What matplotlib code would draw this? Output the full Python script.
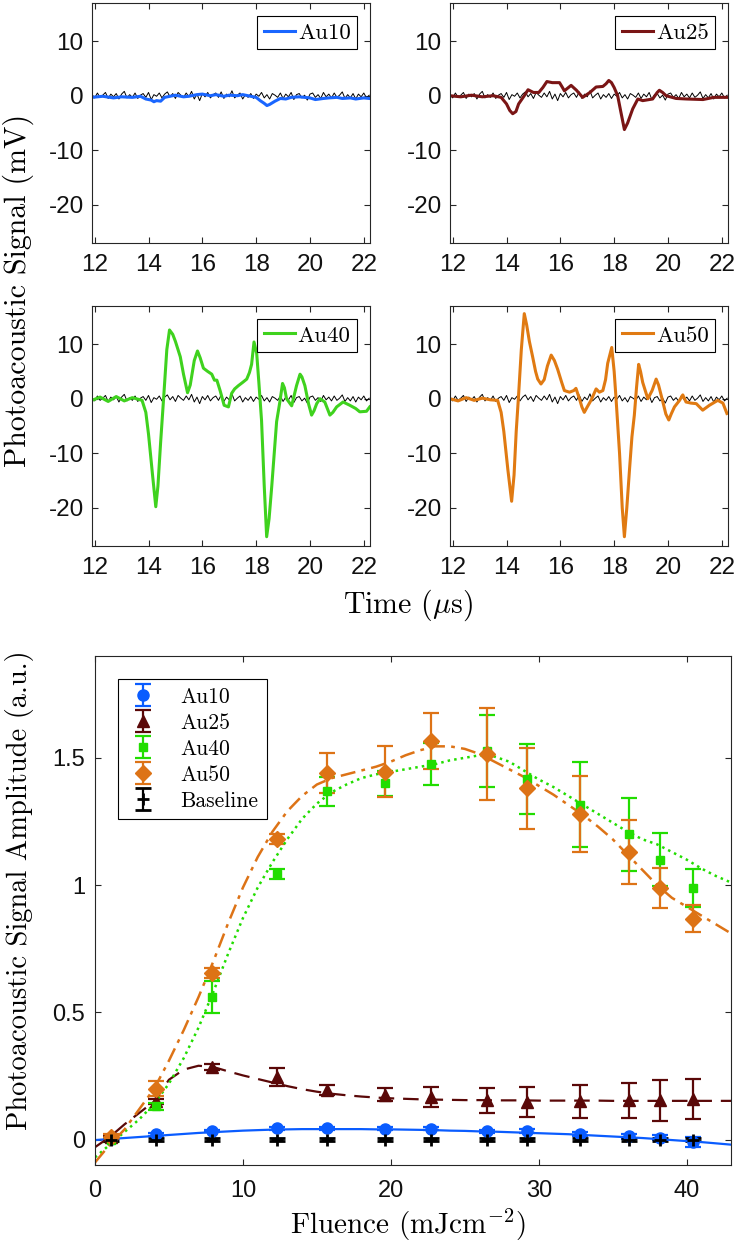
import numpy as np
import matplotlib
matplotlib.use("Agg")
import matplotlib.pyplot as plt

plt.rcParams['font.family'] = ['Liberation Sans', 'DejaVu Sans']
plt.rcParams['axes.unicode_minus'] = False
plt.rcParams['mathtext.fontset'] = 'cm'

# ---------------- data: time-domain signals (mV vs microseconds) ----------------
base_t = np.round(np.arange(11.9, 22.25, 0.1), 2)
baseline_noise = [
    0.2, -0.4, 0.5, -0.3, 0.1, 0.6, -0.5, 0.3, -0.2, 0.4,
    -0.6, 0.3, 0.8, -0.4, 0.2, -0.3, 0.5, -0.5, 0.1, 0.4,
    -0.3, 0.6, -0.7, 0.2, -0.1, 0.5, -0.4, 0.3, 0.7, -0.2,
    0.4, -0.5, 0.6, 0.1, -0.3, 0.5, -0.2, 0.8, -0.6, 0.3,
    -0.9, 0.4, -0.2, 0.6, -0.4, 0.2, 0.5, -0.3, 0.7, -0.5,
    0.3, -0.2, 0.9, -0.4, 0.1, 0.5, -0.6, 0.2, -0.3, 0.4,
    -0.5, 0.3, -0.1, 0.6, -0.4, 0.2, -0.6, 0.4, 0.1, -0.3,
    0.5, -0.5, 0.3, -0.2, 0.6, -0.7, 0.2, 0.4, -0.4, 0.1,
    -0.8, 0.3, 0.5, -0.3, 0.2, -0.5, 0.6, -0.2, 0.3, -0.4,
    0.5, -0.3, 0.1, 0.7, -0.5, 0.2, -0.4, 0.4, -0.6, 0.3,
    -0.2, 0.5, -0.4, 0.1]

au10_t = [11.9, 12.3, 12.7, 13.0, 13.4, 13.7, 13.9, 14.1, 14.2, 14.3, 14.45, 14.6, 14.8, 15.0,
          15.3, 15.5, 15.8, 16.0, 16.3, 16.5, 16.8, 17.0, 17.3, 17.5, 17.8, 18.0, 18.15, 18.3,
          18.4, 18.5, 18.7, 18.9, 19.1, 19.3, 19.6, 19.8, 20.0, 20.2, 20.5, 20.7, 21.0, 21.2,
          21.5, 21.7, 22.0, 22.2]
au10_v = [-0.3, -0.1, -0.4, -0.2, -0.3, -0.1, -0.6, -0.8, -1.1, -0.9, -1.0, -0.3, -0.1, 0.1,
          -0.2, -0.1, 0.2, 0.3, 0.0, 0.2, -0.1, 0.1, 0.0, 0.2, -0.1, -0.3, -0.9, -1.4,
          -1.8, -1.6, -1.0, -0.5, -0.6, -0.3, -0.2, -0.3, -0.4, -0.7, -0.5, -0.4, -0.3, -0.5,
          -0.4, -0.6, -0.4, -0.5]

au25_t = [11.9, 12.3, 12.7, 13.1, 13.5, 13.8, 14.0, 14.12, 14.23, 14.35, 14.45, 14.66, 14.8,
          15.0, 15.2, 15.35, 15.5, 15.7, 15.97, 16.08, 16.15, 16.3, 16.4, 16.6, 16.83, 17.1,
          17.33, 17.58, 17.7, 17.8, 17.9, 18.0, 18.13, 18.25, 18.38, 18.5, 18.69, 18.88,
          19.06, 19.43, 19.6, 19.68, 19.8, 19.93, 20.3, 20.7, 21.3, 21.7, 22.2]
au25_v = [0.0, -0.2, 0.1, -0.2, 0.0, -0.3, -1.5, -2.7, -3.3, -2.9, -1.5, 0.0, 1.1,
          0.6, 0.6, 1.5, 2.6, 2.4, 2.4, 1.5, 0.9, 1.5, 1.9, 1.0, -0.3, 0.6,
          1.6, 1.7, 2.2, 2.8, 2.4, 1.5, 0.0, -3.0, -6.2, -5.0, -2.4, -0.6,
          -0.9, -0.6, 0.6, 1.0, 0.6, 0.0, -0.5, -0.6, -0.7, -0.3, -0.3]

au40_t = [11.9, 12.2, 12.5, 12.8, 13.1, 13.4, 13.76, 13.9, 14.0, 14.15, 14.27, 14.35, 14.45,
          14.56, 14.68, 14.78, 14.9, 15.0, 15.18, 15.3, 15.45, 15.55, 15.7, 15.82, 15.92,
          16.04, 16.2, 16.35, 16.45, 16.54, 16.66, 16.81, 16.97, 17.09, 17.2, 17.34, 17.5,
          17.65, 17.75, 17.83, 17.92, 18.02, 18.1, 18.2, 18.3, 18.39, 18.48, 18.58, 18.76,
          18.88, 18.98, 19.05, 19.13, 19.32, 19.5, 19.63, 19.7, 19.81, 19.95, 20.06, 20.15,
          20.25, 20.37, 20.55, 20.74, 20.85, 20.99, 21.23, 21.48, 21.7, 21.85, 22.1, 22.22]
au40_v = [-0.3, 0.3, -0.5, 0.4, -0.4, 0.2, -0.3, -2.5, -6.5, -14.0, -19.8, -16.0, -8.0,
          0.0, 9.0, 12.6, 11.8, 10.5, 7.7, 4.5, 1.1, 2.5, 7.0, 8.75, 7.5,
          5.6, 5.0, 4.5, 3.4, 3.4, 1.5, -1.2, -1.5, 1.0, 1.8, 2.4, 3.0,
          3.6, 4.8, 6.3, 10.4, 8.3, 3.0, -4.0, -16.0, -25.3, -22.0, -16.0, -4.2,
          -0.6, 2.8, 2.0, 0.0, -1.3, 2.4, 4.5, 4.0, 2.4, -1.0, -3.0, -2.2,
          -0.9, 0.0, -0.6, -3.0, -2.5, -1.5, -0.6, -1.2, -1.8, -2.4, -2.3, -1.5]

au50_t = [11.9, 12.2, 12.5, 12.8, 13.1, 13.4, 13.67, 13.8, 13.9, 14.05, 14.19, 14.28, 14.36,
          14.44, 14.55, 14.66, 14.75, 14.85, 14.97, 15.08, 15.16, 15.28, 15.4, 15.52, 15.66,
          15.78, 15.9, 16.05, 16.15, 16.34, 16.5, 16.58, 16.71, 16.8, 16.89, 17.0, 17.14,
          17.33, 17.45, 17.58, 17.68, 17.76, 17.91, 18.0, 18.07, 18.2, 18.3, 18.38, 18.47,
          18.57, 18.66, 18.75, 18.83, 18.91, 18.98, 19.06, 19.25, 19.41, 19.56, 19.65, 19.81,
          19.92, 20.03, 20.12, 20.24, 20.43, 20.55, 20.67, 20.85, 21.05, 21.29, 21.54, 21.85,
          22.04, 22.19]
au50_v = [0.0, -0.4, 0.2, -0.3, 0.1, -0.2, -0.3, -2.5, -6.0, -13.0, -18.8, -14.0, -6.0,
          0.0, 9.0, 15.6, 13.5, 10.5, 7.7, 5.0, 3.6, 2.7, 3.5, 6.0, 8.0,
          7.0, 5.4, 3.0, 1.5, 1.2, 1.5, 1.9, 0.0, -1.5, -2.5, -1.5, -0.3,
          1.8, 1.2, 1.5, 3.5, 6.5, 9.4, 5.0, 0.0, -10.0, -20.0, -25.3, -20.0,
          -13.0, -7.0, -3.0, 2.0, 6.3, 5.0, 3.0, 0.0, 1.5, 3.6, 2.5, -0.6,
          -2.8, -3.9, -2.8, -1.5, -0.3, 0.7, -0.6, -0.8, -0.9, -2.1, -1.2, -0.3,
          -0.8, -2.7]

time_xticks = [12, 14, 16, 18, 20, 22]
signal_yticks = [-20, -10, 0, 10]

# ---------------- data: amplitude vs fluence ----------------
fluence = [1.1, 4.1, 7.9, 12.3, 15.7, 19.6, 22.75, 26.5, 29.2, 32.8, 36.1, 38.2, 40.4]
amp_au10 = [0.002, 0.02, 0.033, 0.044, 0.044, 0.042, 0.042, 0.033, 0.034, 0.022, 0.013, 0.008, -0.01]
err_au10 = [0.005, 0.005, 0.005, 0.006, 0.006, 0.006, 0.006, 0.006, 0.008, 0.008, 0.01, 0.01, 0.02]
amp_au25 = [0.01, 0.15, 0.285, 0.245, 0.196, 0.177, 0.167, 0.154, 0.148, 0.15, 0.154, 0.154, 0.16]
err_au25 = [0.005, 0.01, 0.012, 0.035, 0.02, 0.025, 0.04, 0.05, 0.06, 0.065, 0.07, 0.08, 0.078]
amp_au40 = [0.0, 0.13, 0.56, 1.043, 1.368, 1.40, 1.476, 1.527, 1.418, 1.316, 1.199, 1.10, 0.99]
err_au40 = [0.008, 0.015, 0.062, 0.02, 0.057, 0.05, 0.083, 0.14, 0.138, 0.167, 0.145, 0.105, 0.075]
amp_au50 = [0.01, 0.2, 0.656, 1.18, 1.44, 1.445, 1.566, 1.515, 1.38, 1.28, 1.13, 0.988, 0.867]
err_au50 = [0.01, 0.03, 0.02, 0.02, 0.08, 0.1, 0.11, 0.18, 0.16, 0.15, 0.125, 0.08, 0.053]
amp_base = [0.0, 0.0, 0.0, 0.0, 0.0, 0.0, 0.0, 0.0, 0.0, 0.0, 0.0, 0.0, 0.0]
err_base = [0.006, 0.006, 0.006, 0.006, 0.006, 0.006, 0.006, 0.006, 0.006, 0.006, 0.006, 0.006, 0.006]

fit_x = [0, 1, 2, 3, 4, 5, 6, 7, 8, 9, 10, 11, 12, 13, 14, 15, 16, 17, 18, 19, 20, 21,
         22, 23, 24, 25, 26, 27, 28, 29, 30, 31, 32, 33, 34, 35, 36, 37, 38, 39, 40, 41, 42, 43]
fit_au10 = [-0.002, 0.002, 0.006, 0.01, 0.014, 0.018, 0.022, 0.026, 0.029, 0.032, 0.035,
            0.037, 0.039, 0.04, 0.041, 0.041, 0.041, 0.041, 0.041, 0.04, 0.04, 0.039,
            0.038, 0.037, 0.035, 0.034, 0.032, 0.031, 0.029, 0.027, 0.025, 0.023, 0.021,
            0.018, 0.015, 0.012, 0.009, 0.006, 0.002, -0.002, -0.006, -0.01, -0.015, -0.02]
fit_au25 = [-0.03, 0.01, 0.06, 0.105, 0.15, 0.235, 0.275, 0.29, 0.285, 0.268, 0.252,
            0.238, 0.224, 0.21, 0.198, 0.188, 0.18, 0.174, 0.169, 0.165, 0.162, 0.16,
            0.158, 0.157, 0.156, 0.155, 0.155, 0.154, 0.154, 0.154, 0.153, 0.153, 0.153,
            0.153, 0.153, 0.152, 0.152, 0.152, 0.152, 0.152, 0.152, 0.152, 0.152, 0.152]
fit_au40 = [-0.07, -0.02, 0.03, 0.08, 0.14, 0.22, 0.32, 0.44, 0.58, 0.73, 0.87,
            0.99, 1.09, 1.18, 1.26, 1.32, 1.365, 1.395, 1.42, 1.435, 1.445, 1.455,
            1.465, 1.475, 1.49, 1.50, 1.51, 1.505, 1.485, 1.45, 1.415, 1.385, 1.35,
            1.315, 1.28, 1.245, 1.21, 1.18, 1.16, 1.13, 1.10, 1.065, 1.035, 1.01]
fit_au50 = [-0.09, -0.02, 0.04, 0.12, 0.20, 0.31, 0.43, 0.56, 0.70, 0.85, 0.99,
            1.11, 1.21, 1.29, 1.35, 1.395, 1.42, 1.435, 1.45, 1.465, 1.485, 1.51,
            1.53, 1.545, 1.545, 1.535, 1.515, 1.485, 1.455, 1.425, 1.39, 1.355, 1.315,
            1.275, 1.23, 1.18, 1.12, 1.06, 1.0, 0.95, 0.915, 0.88, 0.845, 0.81]

fluence_xticks = [0, 10, 20, 30, 40]
amp_yticks = [0, 0.5, 1, 1.5]
amp_yticklabels = ["0", "0.5", "1", "1.5"]

# ---------------- styling ----------------
C10_top, C25_top, C40_top, C50_top = "#1a66ff", "#7a1515", "#3fd21e", "#e07a12"
C10, C25, C40, C50 = "#0a5cff", "#5a0808", "#22dd00", "#dd7316"
SPINE = "#262626"
SERIF = ["cmr10", "DejaVu Serif"]

W, H = 737, 1245
fig = plt.figure(figsize=(W / 100, H / 100), dpi=100)


def px_axes(x0, y0, x1, y1):
    return fig.add_axes([x0 / W, 1 - y1 / H, (x1 - x0) / W, (y1 - y0) / H])


def style_axes(ax, fs, xpad, ypad):
    for s in ax.spines.values():
        s.set_color(SPINE)
        s.set_linewidth(0.8)
    ax.tick_params(direction="in", top=True, right=True, length=4, width=0.8,
                   color=SPINE, labelsize=fs, labelcolor="#111111")
    ax.tick_params(axis="x", pad=xpad)
    ax.tick_params(axis="y", pad=ypad)


panels = [
    ((92, 3, 370, 243), au10_t, au10_v, C10_top, "Au10"),
    ((450, 3, 728, 243), au25_t, au25_v, C25_top, "Au25"),
    ((92, 306, 370, 546), au40_t, au40_v, C40_top, "Au40"),
    ((450, 306, 728, 546), au50_t, au50_v, C50_top, "Au50"),
]
for box, t, v, col, name in panels:
    ax = px_axes(*box)
    ax.plot(base_t, baseline_noise, color="black", lw=0.7)
    ax.plot(t, v, color=col, lw=2.2, label=name)
    ax.set_xlim(11.9, 22.23)
    ax.set_ylim(-27, 17)
    ax.set_xticks(time_xticks)
    ax.set_yticks(signal_yticks)
    style_axes(ax, 17.5, 8, 6)
    leg = ax.legend(loc="upper right", prop={"family": SERIF, "size": 16.5},
                    handlelength=1.35, handletextpad=0.12, borderpad=0.3,
                    borderaxespad=0.55, fancybox=False, framealpha=1,
                    edgecolor="black")
    leg.get_frame().set_linewidth(0.8)

fig.text(18 / W, 1 - 290 / H, "Photoacoustic Signal (mV)", rotation=90,
         ha="center", va="center", fontsize=21.5, family=SERIF)
fig.text(408 / W, 1 - 605 / H, r"Time ($\mu$s)", ha="center", va="center",
         fontsize=21.5, family=SERIF)

# ---------------- bottom chart ----------------
ax = px_axes(95, 656, 731, 1165)
eb_kw = dict(capsize=6, elinewidth=1.6, capthick=1.6, linestyle="none")
h10 = ax.errorbar(fluence, amp_au10, yerr=err_au10, fmt="o", color=C10, ms=8, **eb_kw)
h25 = ax.errorbar(fluence, amp_au25, yerr=err_au25, fmt="^", color=C25, ms=8, **eb_kw)
h40 = ax.errorbar(fluence, amp_au40, yerr=err_au40, fmt="s", color=C40, ms=6, **eb_kw)
h50 = ax.errorbar(fluence, amp_au50, yerr=err_au50, fmt="D", color=C50, ms=8, **eb_kw)
hb = ax.errorbar(fluence, amp_base, yerr=err_base, fmt="+", color="black", ms=9, mew=2, **eb_kw)

ax.plot(fit_x, fit_au10, "-", color=C10, lw=1.6)
ax.plot(fit_x, fit_au25, color=C25, lw=1.6, dashes=(7, 4))
ax.plot(fit_x, fit_au40, ":", color=C40, lw=1.8)
ax.plot(fit_x, fit_au50, color=C50, lw=1.8, dashes=(6, 2.5, 1.5, 2.5))

ax.set_xlim(0, 43)
ax.set_ylim(-0.1, 1.9)
ax.set_xticks(fluence_xticks)
ax.set_yticks(amp_yticks)
ax.set_yticklabels(amp_yticklabels)
style_axes(ax, 17, 11, 7)

fig.text(408 / W, 1 - 1225 / H, r"Fluence (mJcm$^{-2}$)", ha="center", va="center",
         fontsize=21, family=SERIF)
fig.text(20 / W, 1 - 890 / H, "Photoacoustic Signal Amplitude (a.u.)", rotation=90,
         ha="center", va="center", fontsize=20.5, family=SERIF)

leg = ax.legend([h10, h25, h40, h50, hb], ["Au10", "Au25", "Au40", "Au50", "Baseline"],
                loc="upper left", prop={"family": SERIF, "size": 15.5},
                handlelength=1.6, handletextpad=0.9, labelspacing=0.3,
                borderpad=0.4, borderaxespad=1.05, fancybox=False, framealpha=1,
                edgecolor="black")
leg.get_frame().set_linewidth(0.8)

fig.savefig("out.png", dpi=100)
